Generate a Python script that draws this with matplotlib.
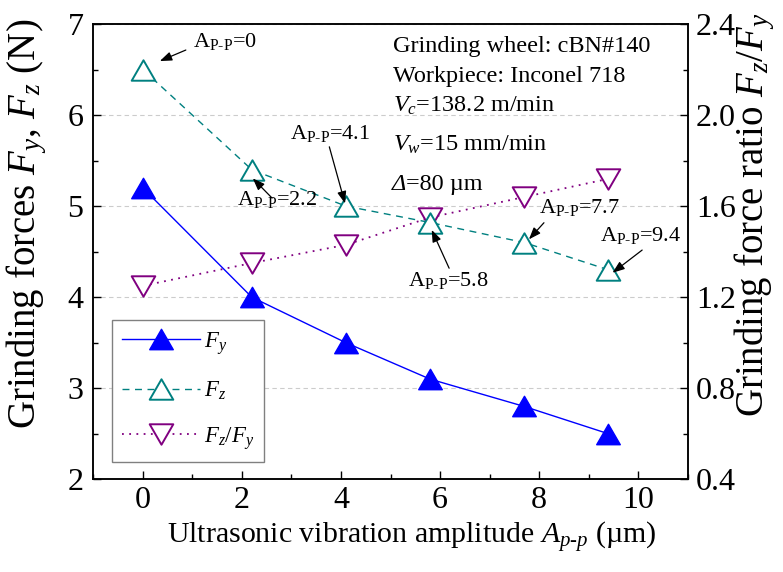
import matplotlib
matplotlib.use("Agg")
import matplotlib.pyplot as plt
from matplotlib.path import Path
from matplotlib.ticker import MultipleLocator, FixedLocator, FixedFormatter
from matplotlib.transforms import offset_copy

plt.rcParams["font.family"] = ["Liberation Serif", "DejaVu Serif"]
plt.rcParams["mathtext.fontset"] = "custom"
plt.rcParams["mathtext.rm"] = "Liberation Serif"
plt.rcParams["mathtext.it"] = "Liberation Serif:italic"
plt.rcParams["mathtext.bf"] = "Liberation Serif:bold"
plt.rcParams["axes.linewidth"] = 1.1

# ---- data ----
amplitude = [0, 2.2, 4.1, 5.8, 7.7, 9.4]          # A_p-p (um)
force_y = [5.2, 4.0, 3.5, 3.1, 2.8, 2.5]          # F_y (N)
force_z = [6.5, 5.4, 5.0, 4.82, 4.6, 4.3]         # F_z (N)
force_ratio = [1.25, 1.35, 1.43, 1.55, 1.64, 1.72]  # F_z / F_y
amp_labels = ["0", "2.2", "4.1", "5.8", "7.7", "9.4"]

x_ticks = [0, 2, 4, 6, 8, 10]
left_ticks = [2, 3, 4, 5, 6, 7]
right_ticks = [0.4, 0.8, 1.2, 1.6, 2.0, 2.4]
right_tick_labels = ["0.4", "0.8", "1.2", "1.6", "2.0", "2.4"]

conditions = [
    "Grinding wheel: cBN#140",
    "Workpiece: Inconel 718",
    r"$V_c$=138.2 m/min",
    r"$V_w$=15 mm/min",
]
depth_symbol = "Δ"
depth_value = "=80 µm"

# ---- styles ----
BLUE = "#0000ff"
TEAL = "#008080"
PURPLE = "#800080"

tri_up = Path([(0, 0.866), (-1, -0.866), (1, -0.866), (0, 0.866)], closed=True)
tri_down = Path([(0, -0.866), (-1, 0.866), (1, 0.866), (0, -0.866)], closed=True)
MS = 17

W, H = 783, 572
fig = plt.figure(figsize=(W / 100, H / 100), dpi=100)
ax_l, ax_r, ax_t, ax_b = 93.3, 687.7, 24.0, 479.3
ax = fig.add_axes([ax_l / W, 1 - ax_b / H, (ax_r - ax_l) / W, (ax_b - ax_t) / H])
ax2 = ax.twinx()

# force axes drawn above the ratio axes
ax.set_zorder(ax2.get_zorder() + 1)
ax.patch.set_visible(False)
ax2.patch.set_visible(True)
ax2.patch.set_facecolor("white")

ln_fy, = ax.plot(amplitude, force_y, color=BLUE, lw=1.0, marker=tri_up, ms=MS,
                 mfc=BLUE, mec=BLUE, mew=1.0, zorder=3)
ln_fz, = ax.plot(amplitude, force_z, color=TEAL, lw=1.0, dashes=(5, 4),
                 marker=tri_up, ms=MS, mfc="white", mec=TEAL, mew=1.4, zorder=4)
ln_ratio, = ax2.plot(amplitude, force_ratio, color=PURPLE, lw=1.3, dashes=(1, 3),
                     marker=tri_down, ms=MS, mfc="white", mec=PURPLE, mew=1.4, zorder=3)

# axes ranges and ticks
ax.set_xlim(-1, 11)
ax.set_ylim(2, 7)
ax.xaxis.set_major_locator(FixedLocator(x_ticks))
ax.xaxis.set_minor_locator(MultipleLocator(1))
ax.yaxis.set_major_locator(FixedLocator(left_ticks))
ax.yaxis.set_minor_locator(MultipleLocator(0.5))
ax.tick_params(which="both", direction="in", top=False, right=False, width=1.0)
ax.tick_params(which="major", length=6)
ax.tick_params(which="minor", length=3.5)
ax.tick_params(axis="x", pad=5, labelsize=23)
ax.tick_params(axis="y", pad=7, labelsize=23)

ax2.set_ylim(0.4, 2.4)
ax2.yaxis.set_major_locator(FixedLocator(right_ticks))
ax2.yaxis.set_major_formatter(FixedFormatter(right_tick_labels))
ax2.yaxis.set_minor_locator(MultipleLocator(0.2))
ax2.tick_params(which="both", direction="in", left=False, right=True, width=1.0)
ax2.tick_params(which="major", length=6, pad=6, labelsize=23)
ax2.tick_params(which="minor", length=3.5)

ax2.set_axisbelow(True)
ax2.yaxis.grid(True, which="major", color="#cccccc", lw=0.8, ls=(0, (4, 3)))

# axis labels
ax.set_xlabel(r"Ultrasonic vibration amplitude $A_{p\text{-}p}$ (µm)", fontsize=21.5)
ax.xaxis.set_label_coords(0.536, -0.09)
ax.set_ylabel(r"Grinding forces $F_y$, $F_z$ (N)", fontsize=28)
ax.yaxis.set_label_coords(-0.075, 0.562)
ax2.set_ylabel(r"Grinding force ratio $F_z/F_y$", fontsize=28)
ax2.yaxis.set_label_coords(1.076, 0.582)

# legend
handles = [ln_fy, ln_fz, ln_ratio]
labels = [r"$F_y$", r"$F_z$", r"$F_z/F_y$"]
leg = ax.legend(handles, labels, loc="lower left",
                bbox_to_anchor=(112 / W, 1 - 462 / H), bbox_transform=fig.transFigure,
                borderaxespad=0, fontsize=16.5, handlelength=3.4, handletextpad=0.15,
                labelspacing=1.0, borderpad=0.45, frameon=True, fancybox=False,
                edgecolor="#808080", framealpha=1, numpoints=1)
leg.get_frame().set_linewidth(1.0)

# amplitude call-outs on the F_z points: (arrow tip, arrow tail, text) offsets in pixels
callouts = [
    ((17, 8.5), (43, 19.5), (50, 22.5)),
    ((1, -8.7), (20.3, -28.4), (-15, -35.4)),
    ((-0.9, 2.7), (-16.6, 59.3), (-56, 66.7)),
    ((1.6, -7.4), (19, -45.7), (-22, -63.7)),
    ((4.7, 3.2), (19.7, 19.8), (15, 29.2)),
    ((4.1, -2.9), (33.7, 19.8), (-8.6, 29.1)),
]
for xv, yv, lab, (tip, tail, txt) in zip(amplitude, force_z, amp_labels, callouts):
    tip_tr = offset_copy(ax.transData, fig=fig, x=tip[0], y=tip[1], units="dots")
    ax.annotate("", xy=(xv, yv), xycoords=tip_tr,
                xytext=(tail[0] - tip[0], tail[1] - tip[1]), textcoords="offset pixels",
                arrowprops=dict(arrowstyle="-|>,head_length=0.4,head_width=0.15",
                                mutation_scale=18, color="black", lw=0.9,
                                shrinkA=0, shrinkB=0),
                zorder=6)
    ax.annotate(r"A$_{\mathrm{P}\text{-}\mathrm{P}}$=" + lab, xy=(xv, yv),
                xytext=txt, textcoords="offset pixels", ha="left", va="baseline",
                fontsize=16, zorder=6)

# grinding conditions
cond_baselines = [52, 82, 112, 151]
for line, yb in zip(conditions, cond_baselines):
    fig.text(393 / W, 1 - yb / H, line, fontsize=17.5, ha="left", va="baseline")
fig.text(392 / W, 1 - 190 / H, depth_symbol, fontsize=17.5, style="italic",
         ha="left", va="baseline")
fig.text(406 / W, 1 - 190 / H, depth_value, fontsize=17.5, ha="left", va="baseline")

fig.savefig("out.png", dpi=100)
